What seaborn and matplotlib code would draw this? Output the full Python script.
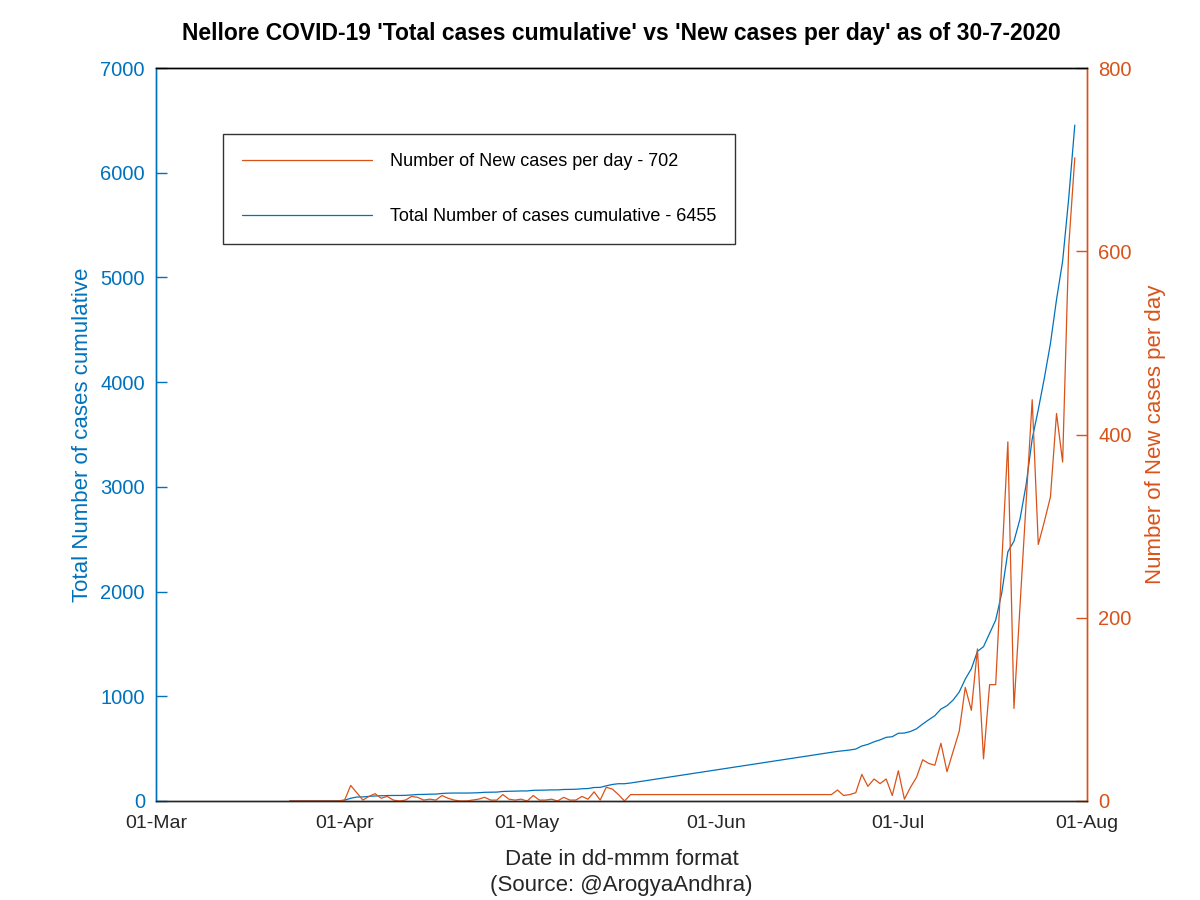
import pandas as pd
import matplotlib
matplotlib.use("Agg")
import matplotlib.pyplot as plt
import matplotlib.dates as mdates
import seaborn as sns

# dates with a reporting gap between 18-May and 20-Jun
dates_part1 = pd.date_range("2020-03-23", "2020-05-18")
dates_part2 = pd.date_range("2020-06-20", "2020-07-30")

new_part1 = [0, 0, 0, 0, 0, 0, 0, 0, 0,
             1, 17, 9, 1, 5, 8, 3, 5, 1, 0, 1, 5, 4, 1, 2, 1, 6, 3, 1, 0,
             0, 1, 2, 4, 1, 1, 7, 2, 1, 2,
             0, 6, 1, 1, 2, 0, 4, 1, 1, 5, 2, 10, 1, 15, 13, 7, 0, 7]
new_part2 = [7, 12, 6, 7, 9, 29, 16, 24, 19, 24, 6,
             33, 2, 15, 26, 45, 41, 39, 63, 32, 54, 76, 124, 99, 166, 46,
             127, 127, 260, 392, 101, 213, 326, 438, 280, 305, 332, 423,
             370, 605, 702]

total_part1 = [1, 1, 1, 1, 1, 1, 1, 1, 1,
               8, 26, 38, 39, 44, 48, 50, 52, 53, 53, 54, 58, 62, 63, 65, 66,
               72, 75, 76, 76, 76, 77, 79, 83, 84, 85, 91, 93, 94, 96,
               96, 102, 103, 104, 106, 106, 110, 111, 112, 117, 119, 129, 130,
               145, 158, 165, 165, 172]
total_part2 = [465, 474, 480, 487, 496, 525, 541, 565, 584, 608, 614,
               647, 649, 664, 690, 735, 776, 815, 878, 910, 964, 1040, 1164,
               1263, 1429, 1474, 1601, 1728, 1988, 2380, 2481, 2694, 3020,
               3458, 3738, 4040, 4370, 4790, 5155, 5755, 6455]

df = pd.DataFrame({
    "date": list(dates_part1) + list(dates_part2),
    "new": new_part1 + new_part2,
    "total": total_part1 + total_part2,
})

blue = "#0072BD"
orange = "#D95319"

sns.set_style("white")
plt.rcParams["font.family"] = ["Liberation Sans", "DejaVu Sans"]

fig = plt.figure(figsize=(12, 9), dpi=100)
ax1 = fig.add_axes([0.13, 0.11, 0.7758, 0.8144])
ax2 = ax1.twinx()

sns.lineplot(data=df, x="date", y="total", ax=ax1, color=blue, linewidth=0.9)
sns.lineplot(data=df, x="date", y="new", ax=ax2, color=orange, linewidth=0.9)

ax1.set_xlim(pd.Timestamp("2020-03-01"), pd.Timestamp("2020-08-01"))
ax1.set_ylim(0, 7000)
ax2.set_ylim(0, 800)
ax1.set_yticks(range(0, 7001, 1000))
ax2.set_yticks(range(0, 801, 200))
ax1.xaxis.set_major_locator(mdates.MonthLocator())
ax1.xaxis.set_major_formatter(mdates.DateFormatter("%d-%b"))

for ax in (ax1, ax2):
    for s in ax.spines.values():
        s.set_linewidth(1.0)
    ax.spines["top"].set_color("black")
    ax.spines["bottom"].set_color("#262626")
    ax.spines["left"].set_color(blue)
    ax.spines["right"].set_color(orange)

ax1.tick_params(axis="x", direction="in", length=8, width=1, colors="#262626",
                labelsize=14, pad=10)
ax1.tick_params(axis="y", direction="in", length=8, width=1, colors=blue,
                labelsize=14.5, pad=8)
ax2.tick_params(axis="y", direction="in", length=8, width=1, colors=orange,
                labelsize=14.5, pad=8)

ax1.set_xlabel("Date in dd-mmm format\n(Source: @ArogyaAndhra)",
               fontsize=16, color="#262626", labelpad=12, linespacing=1.35)
ax1.set_ylabel("Total Number of cases cumulative", fontsize=16, color=blue, labelpad=5)
ax2.set_ylabel("Number of New cases per day", fontsize=16, color=orange, labelpad=10)
ax1.set_title("Nellore COVID-19 'Total cases cumulative' vs 'New cases per day' as of 30-7-2020",
              fontsize=16.5, fontweight="bold", color="black", pad=20)

h_new = ax2.get_lines()[0]
h_tot = ax1.get_lines()[0]
leg = ax2.legend([h_new, h_tot],
                 ["Number of New cases per day - 702",
                  "Total Number of cases cumulative - 6455"],
                 loc="upper left", bbox_to_anchor=(0.072, 0.91), borderaxespad=0,
                 fontsize=13, frameon=True, fancybox=False, edgecolor="black",
                 handlelength=7.2, handletextpad=1.0, labelspacing=2.1,
                 borderpad=1.05, labelcolor="black")
leg.get_frame().set_linewidth(1.0)

fig.savefig("out.png", dpi=100)
